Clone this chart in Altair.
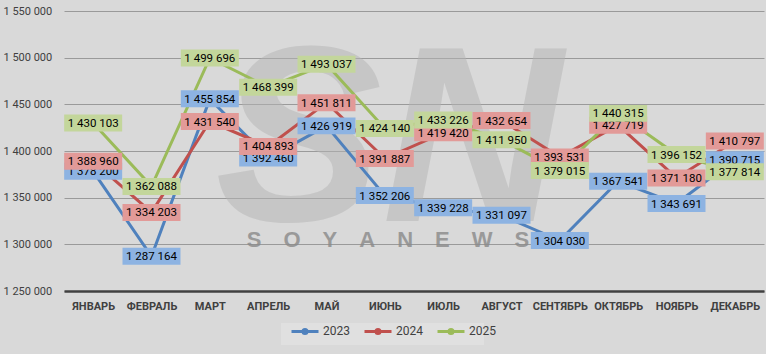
import altair as alt
import pandas as pd

months = ["ЯНВАРЬ", "ФЕВРАЛЬ", "МАРТ", "АПРЕЛЬ", "МАЙ", "ИЮНЬ", "ИЮЛЬ",
          "АВГУСТ", "СЕНТЯБРЬ", "ОКТЯБРЬ", "НОЯБРЬ", "ДЕКАБРЬ"]
years = ["2023", "2024", "2025"]
v2023 = [1378200, 1287164, 1455854, 1392460, 1426919, 1352206, 1339228,
         1331097, 1304030, 1367541, 1343691, 1390715]
v2024 = [1388960, 1334203, 1431540, 1404893, 1451811, 1391887, 1419420,
         1432654, 1393531, 1427719, 1371180, 1410797]
v2025 = [1430103, 1362088, 1499696, 1468399, 1493037, 1424140, 1433226,
         1411950, 1379015, 1440315, 1396152, 1377814]
y_ticks = [1250000, 1300000, 1350000, 1400000, 1450000, 1500000, 1550000]

line_colors = ["#4f81bd", "#c0504d", "#9bbb59"]
box_colors = ["#8db3e2", "#e29a98", "#c3d69b"]

rows = []
for yr, vals in zip(years, [v2023, v2024, v2025]):
    for m, v in zip(months, vals):
        rows.append({"month": m, "year": yr, "value": v,
                     "label": f"{v:,}".replace(",", " ")})
df = pd.DataFrame(rows)

FONT = "Roboto"
W, H = 700, 280

xenc = alt.X("month:N", sort=months, scale=alt.Scale(paddingInner=0, paddingOuter=0),
             axis=alt.Axis(title=None, labelAngle=0, ticks=False, labelPadding=9,
                           labelFont=FONT, labelFontSize=11, labelFontWeight="bold",
                           labelColor="#404040", domainColor="#404040", domainWidth=2.5,
                           grid=False))
yenc = alt.Y("value:Q", scale=alt.Scale(domain=[1250000, 1550000], nice=False, zero=False),
             axis=alt.Axis(title=None, values=y_ticks, ticks=False, domain=False,
                           labelAlign="left", labelPadding=61, labelFont=FONT,
                           labelFontSize=11, labelColor="#404040",
                           labelExpr="replace(format(datum.value, ','), /,/g, ' ')",
                           grid=True, gridColor="#9a9a9a", gridWidth=1))

color = alt.Color("year:N", scale=alt.Scale(domain=years, range=line_colors),
                  legend=alt.Legend(title=None, orient="none", direction="horizontal",
                                    legendX=226, legendY=305, padding=0,
                                    symbolType="M-1,0L1,0M0.15,0A0.15,0.15,0,1,1,-0.15,0A0.15,0.15,0,1,1,0.15,0",
                                    symbolSize=729, symbolStrokeWidth=3,
                                    labelFont=FONT, labelFontSize=12, labelColor="#404040",
                                    columnPadding=8, labelOffset=3))

base = alt.Chart(df)

legend_box = alt.Chart(pd.DataFrame({"k": [0]})).mark_rect(color="#e0e0e0").encode(
    x=alt.value(217), x2=alt.value(420), y=alt.value(312), y2=alt.value(334))

watermark_logo = alt.Chart(pd.DataFrame({"t": ["SN"]})).mark_text(
    font="Liberation Sans", fontSize=250, fontStyle="italic", fontWeight="bold",
    color="#b4b4b4", opacity=0.5, align="center", baseline="middle"
).encode(text="t:N", x=alt.value(325), y=alt.value(135))

watermark_text = alt.Chart(pd.DataFrame({"t": ["S\u2003O\u2003Y\u2003A\u2003N\u2003E\u2003W\u2003S"]})).mark_text(
    font="Liberation Sans", fontSize=22, fontWeight="bold",
    color="#8a8a8a", opacity=0.8, align="center", baseline="middle"
).encode(text="t:N", x=alt.value(324), y=alt.value(229))

lines = base.mark_line(strokeWidth=3).encode(x=xenc, y=yenc, color=color)
points = base.mark_point(filled=True, size=230, opacity=1).encode(
    x=xenc, y=yenc, color=alt.Color("year:N", scale=alt.Scale(domain=years, range=line_colors), legend=None))

box_shape = "M-1,-0.293L1,-0.293L1,0.293L-1,0.293Z"
label_layers = []
for yr, bc in zip(years, box_colors):
    sub = base.transform_filter(alt.datum.year == yr)
    label_layers.append(sub.mark_point(shape=box_shape, filled=True, size=3364, opacity=1,
                                       strokeWidth=0).encode(x=xenc, y=yenc, fill=alt.value(bc)))
    label_layers.append(sub.mark_text(font=FONT, fontSize=11.5, color="#000000",
                                      baseline="middle", dy=1).encode(x=xenc, y=yenc, text="label:N"))

chart = alt.layer(legend_box, watermark_logo, watermark_text, lines, points, *label_layers).properties(
    width=W, height=H,
    autosize=alt.AutoSizeParams(type="none"),
    padding={"left": 64, "top": 11, "right": 2, "bottom": 63},
    background="#d9d9d9",
).configure_view(stroke=None)

chart.save("out.html", embed_options={"renderer": "svg", "actions": False})
